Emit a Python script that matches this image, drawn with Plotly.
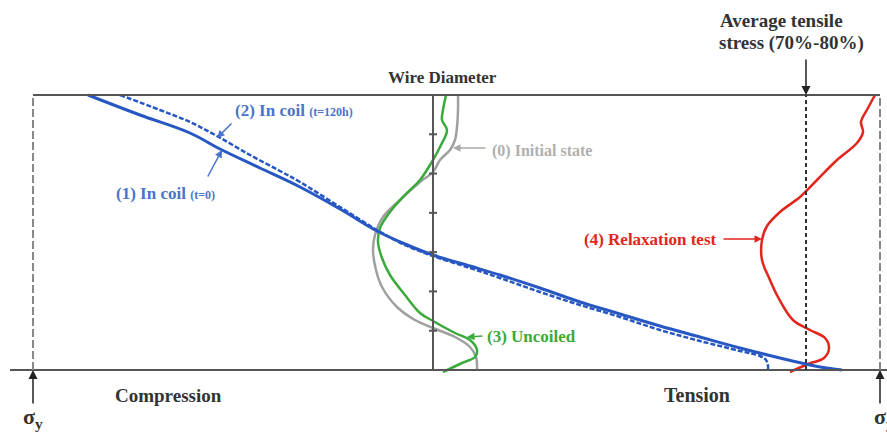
import plotly.graph_objects as go

# ---- data: stress (0 = wire axis, arbitrary units) vs position across diameter (0..275) ----
in_coil_t0_stress = [-345, -293, -243, -213, -173, -133, -93, -56, -28, 0, 37, 67, 107, 147, 187, 227, 267, 307, 347, 382, 409]
in_coil_t0_pos    = [275, 255, 237, 221, 202, 183, 161, 139, 126, 115, 104, 95, 82, 68, 56, 44, 33, 22, 12, 4, 0]

in_coil_t120_stress = [-313, -273, -243, -216, -183, -153, -133, -93, -56, -28, 0, 37, 67, 107, 147, 187, 227, 267, 307, 327, 333, 335, 335]
in_coil_t120_pos    = [275, 260, 248, 234, 215, 199, 188, 163, 140, 125, 114, 102, 92, 78, 65, 53, 40, 29, 19, 14, 10, 4, 0]

initial_stress = [25, 25, 24, 22, 17, 7, 0, -13, -33, -50, -58, -60, -57, -51, -36, -18, 0, 22, 37, 43, 44]
initial_pos    = [275, 260, 243, 230, 220, 210, 198, 188, 170, 153, 135, 120, 100, 83, 63, 50, 42, 33, 23, 13, 0]

uncoiled_stress = [13, 10, 9, 14, 7, 0, -13, -28, -43, -53, -55, -51, -43, -28, -13, 0, 22, 37, 44, 42, 29, 10]
uncoiled_pos    = [275, 260, 250, 240, 223, 210, 190, 175, 158, 142, 128, 112, 95, 75, 57, 49, 37, 30, 20, 13, 7, -2]

relax_stress = [442, 435, 428, 430, 424, 404, 384, 367, 347, 334, 329, 329, 337, 345, 360, 377, 392, 396, 391, 375, 357]
relax_pos    = [275, 262, 248, 238, 227, 210, 190, 173, 158, 144, 130, 110, 90, 73, 50, 40, 32, 22, 12, 6, -2]

avg_tensile = 373
sigma_y_left, sigma_y_right = -400, 447
wire_top = 275
n_ticks = 7

BLUE = "#2757C2"
BLUE_T = "#4A74CC"
GREEN = "#3AAA3A"
GRAY = "#A0A0A0"
RED = "#E2261C"
AX = "#555555"
FONT = "Liberation Serif"

def P(px, py):
    return px - 433, 370 - py

fig = go.Figure()
fig.add_trace(go.Scatter(x=initial_stress, y=initial_pos, mode="lines",
                         line=dict(color=GRAY, width=2.5, shape="spline"), hoverinfo="skip"))
fig.add_trace(go.Scatter(x=uncoiled_stress, y=uncoiled_pos, mode="lines",
                         line=dict(color=GREEN, width=2.5, shape="spline"), hoverinfo="skip"))
fig.add_trace(go.Scatter(x=relax_stress, y=relax_pos, mode="lines",
                         line=dict(color=RED, width=2.5, shape="spline"), hoverinfo="skip"))
fig.add_trace(go.Scatter(x=in_coil_t120_stress, y=in_coil_t120_pos, mode="lines",
                         line=dict(color=BLUE, width=2.5, shape="spline", dash="5px,2px"), hoverinfo="skip"))
fig.add_trace(go.Scatter(x=in_coil_t0_stress, y=in_coil_t0_pos, mode="lines",
                         line=dict(color=BLUE, width=3, shape="spline"), hoverinfo="skip"))

shapes = []
shapes.append(dict(type="line", x0=sigma_y_left, x1=sigma_y_right, y0=wire_top, y1=wire_top, line=dict(color=AX, width=2)))
shapes.append(dict(type="line", x0=-423, x1=454, y0=0, y1=0, line=dict(color=AX, width=2)))
shapes.append(dict(type="line", x0=sigma_y_left, x1=sigma_y_left, y0=0, y1=wire_top, line=dict(color="#888888", width=2, dash="8px,3px")))
shapes.append(dict(type="line", x0=sigma_y_right, x1=sigma_y_right, y0=0, y1=wire_top, line=dict(color="#888888", width=2, dash="8px,3px")))
shapes.append(dict(type="line", x0=0, x1=0, y0=0, y1=wire_top, line=dict(color=AX, width=2)))
for k in range(1, n_ticks):
    yk = wire_top * k / n_ticks
    shapes.append(dict(type="line", x0=-4, x1=4, y0=yk, y1=yk, line=dict(color=AX, width=2)))
shapes.append(dict(type="line", x0=avg_tensile, x1=avg_tensile, y0=0, y1=wire_top, line=dict(color="#333333", width=2, dash="4px,3px")))

ann = []
def text(px, py, s, color="#333333", size=15, bold=True, xanchor="center"):
    x, y = P(px, py)
    ann.append(dict(x=x, y=y, text=("<b>%s</b>" % s) if bold else s, showarrow=False,
                    font=dict(family=FONT, size=size, color=color), xanchor=xanchor, yanchor="middle"))

def arrow(x, y, ax, ay, color, width=1.5, size=1.0, head=2):
    ann.append(dict(x=x, y=y, ax=ax, ay=ay, axref="pixel", ayref="pixel", text="", showarrow=True,
                    arrowhead=head, arrowsize=size, arrowwidth=width, arrowcolor=color))

text(442, 77, "Wire Diameter", size=17)
text(718, 20, "Average tensile", size=19, xanchor="left")
text(717, 43, "stress (70%-80%)", size=19, xanchor="left")
arrow(avg_tensile, wire_top, 0, -37, "#222222", width=1.5, size=1.2)
text(168, 395, "Compression", size=19)
text(697, 395, "Tension", size=20)
text(33, 418, "σ<sub>y</sub>", size=22)
text(884, 418, "σ<sub>y</sub>", size=22)
arrow(sigma_y_left, 0, 0, 35, "#222222", width=1.5, size=1.2)
arrow(sigma_y_right, 0, 0, 35, "#222222", width=1.5, size=1.2)

text(233, 110, "(2) In coil <span style='font-size:12px'>(t=120h)</span>", color=BLUE_T, size=17, xanchor="left")
arrow(*P(217, 138), 16, -16, BLUE_T)
text(114, 193, "(1) In coil <span style='font-size:12px'>(t=0)</span>", color=BLUE_T, size=17, xanchor="left")
arrow(*P(222, 150), -15, 28, BLUE_T)
text(490, 151, "(0) Initial state", color="#B0B0B0", size=16, xanchor="left")
arrow(*P(453, 148), 34, 0, "#A8A8A8")
text(485, 336, "(3) Uncoiled", color=GREEN, size=17, xanchor="left")
arrow(*P(467, 337), 17, -1, GREEN)
text(582, 239, "(4) Relaxation test", color=RED, size=17, xanchor="left")
arrow(*P(762, 239), -40, 0, RED)

fig.update_layout(
    width=887, height=439, margin=dict(l=0, r=0, t=0, b=0),
    paper_bgcolor="white", plot_bgcolor="white", showlegend=False,
    xaxis=dict(range=[-433, 454], visible=False, fixedrange=True),
    yaxis=dict(range=[-69, 370], visible=False, fixedrange=True),
    shapes=shapes, annotations=ann,
)
fig.write_html("out.html", config={"responsive": False, "displayModeBar": False},
               post_script="document.body.style.margin='0';document.body.style.overflow='hidden';"
                           "document.documentElement.style.overflow='hidden';")
